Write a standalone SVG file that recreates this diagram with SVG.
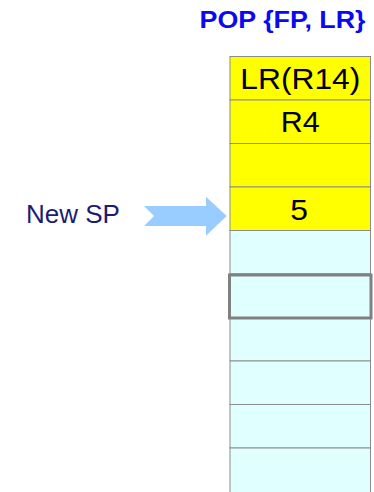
<svg xmlns="http://www.w3.org/2000/svg" width="374" height="492" viewBox="0 0 374 492">
<style>
.cell{stroke:#8c8c8c;stroke-width:1}
.y{fill:#ffff00}
.c{fill:#e0ffff}
.t{font-family:"Liberation Sans",Arial,sans-serif;font-size:29.5px;fill:#000;text-anchor:middle}
</style>
<rect width="374" height="492" fill="#fff"/>
<text x="199.5" y="28.3" font-family="Liberation Sans,Arial,sans-serif" font-weight="bold" font-size="23.5" fill="#0a0aee" textLength="166" lengthAdjust="spacingAndGlyphs">POP {FP, LR}</text>
<g id="stack">
<g id="cell1"><rect class="cell y" x="230" y="56.5" width="140.5" height="43.5"/><text class="t" x="300.3" y="89.3" textLength="120" lengthAdjust="spacingAndGlyphs">LR(R14)</text></g>
<g id="cell2"><rect class="cell y" x="230" y="100" width="140.5" height="43.5"/><text class="t" x="300.3" y="131.7" textLength="39" lengthAdjust="spacingAndGlyphs">R4</text></g>
<g id="cell3"><rect class="cell y" x="230" y="143.5" width="140.5" height="43.5"/></g>
<g id="cell4"><rect class="cell y" x="230" y="187" width="140.5" height="43.5"/><text class="t" x="299" y="220" textLength="17.7" lengthAdjust="spacingAndGlyphs">5</text></g>
<g id="cell5"><rect class="cell c" x="230" y="230.5" width="140.5" height="43.5"/></g>
<g id="cell6"><rect class="cell c" x="230" y="274" width="140.5" height="43.5"/></g>
<g id="cell7"><rect class="cell c" x="230" y="317.5" width="140.5" height="43.5"/></g>
<g id="cell8"><rect class="cell c" x="230" y="361" width="140.5" height="43.5"/></g>
<g id="cell9"><rect class="cell c" x="230" y="404.5" width="140.5" height="43.5"/></g>
<g id="cell10"><rect class="cell c" x="230" y="448" width="140.5" height="50"/></g>
<g id="highlight"><rect x="229.5" y="275" width="141.5" height="43" fill="none" stroke="#808080" stroke-width="3"/></g>
</g>
<g id="newsp">
<text x="26" y="222.7" font-family="Liberation Sans,Arial,sans-serif" font-size="26" fill="#1c1c72">New SP</text>
</g>
<g id="connectors">
<polygon points="144,206 206,206 206,196.7 226.7,216 206,235.7 206,226 144,226 154,216" fill="#99ccff"/>
</g>
</svg>
